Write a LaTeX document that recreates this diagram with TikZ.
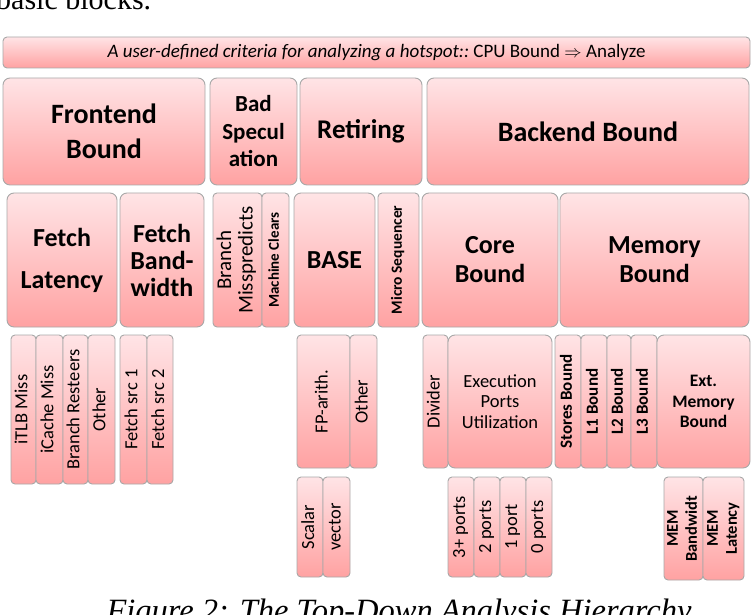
\documentclass[tikz,border=0pt]{standalone}
\usepackage{fontspec}
\setmainfont{Carlito}
\newfontfamily\capserif{Liberation Serif}
\definecolor{ptop}{HTML}{FFE4E6}
\definecolor{pbot}{HTML}{FFA2A2}
\definecolor{bord}{HTML}{A8A8A8}
\tikzset{
  bx/.style={draw=bord, line width=0.9pt, rounded corners=7pt, top color=ptop, bottom color=pbot,
    inner sep=0pt, outer sep=0pt, align=center, text=black},
  sbx/.style={bx, rounded corners=4pt},
}
% \bx[style]{name}{x1}{y1}{x2}{y2}{font}{text}
\newcommand{\bx}[8][bx]{%
  \node[#1, font={#7}, minimum width={(#5-#3)*1pt}, minimum height={(#6-#4)*1pt}]
    (#2) at ({(#3+#5)/2},{(#4+#6)/2}) {#8};}
\newcommand{\rot}[1]{\rotatebox{90}{\begin{tabular}{@{}c@{}}#1\end{tabular}}}
\newcommand{\fs}[2]{\fontsize{#1}{#2}\selectfont}
\begin{document}
\begin{tikzpicture}[x=1pt,y=-1pt]
\useasboundingbox (0,0) rectangle (756,615);
\clip (0,0) rectangle (756,615);
% partial surrounding text
\node[anchor=base west, inner sep=0pt, font=\capserif\fs{30}{34}] (prev) at (-4,10) {basic blocks.};
\node[anchor=base, inner sep=0pt, font=\capserif\itshape\fs{32.5}{36}] (cap) at (399,621) {Figure 2: The Top-Down Analysis Hierarchy};
% header
\bx[sbx]{hdr}{3}{37}{750}{68}{\fs{19}{22}}{\itshape A user-defined criteria for analyzing a hotspot::\upshape\ CPU Bound $\Rightarrow$ Analyze}
% level 1
\bx{fe}{3}{78}{205}{185}{\fs{28}{35}\bfseries}{Frontend\\Bound}
\bx{bs}{210}{78}{297}{185}{\fs{23}{27.5}\bfseries}{Bad\\Specul\\ation}
\bx{ret}{300}{78}{422}{185}{\fs{27}{32}\bfseries}{Retiring}
\bx{be}{427}{78}{749}{185}{\fs{28}{35}\bfseries}{Backend Bound}
% level 2
\bx{fl}{7}{193}{117}{327}{\fs{26}{42}\bfseries}{Fetch\\Latency}
\bx{fb}{120}{193}{204}{327}{\fs{26}{27}\bfseries}{Fetch\\Band-\\width}
\bx[sbx]{bm}{213}{193}{262}{327}{\fs{21}{21.5}}{\rot{Branch\\Misspredicts}}
\bx[sbx]{mc}{262}{193}{289}{327}{\fs{15}{17}\bfseries}{\rot{Machine Clears}}
\bx{base}{294}{193}{375}{327}{\fs{26}{30}\bfseries}{BASE}
\bx[sbx]{ms}{378}{193}{419}{327}{\fs{15.5}{17}\bfseries}{\rot{Micro Sequencer}}
\bx{cb}{422}{193}{558}{327}{\fs{26}{29}\bfseries}{Core\\Bound}
\bx{mb}{560}{193}{749}{327}{\fs{26}{29}\bfseries}{Memory\\Bound}
% level 3 frontend
\bx[sbx]{itlb}{11}{335}{36}{484}{\fs{18.5}{20}}{\rot{iTLB Miss}}
\bx[sbx]{icache}{36}{335}{63}{484}{\fs{18.5}{20}}{\rot{iCache Miss}}
\bx[sbx]{bres}{63}{335}{88}{484}{\fs{18.5}{20}}{\rot{Branch Resteers}}
\bx[sbx]{feo}{88}{335}{115}{484}{\fs{18.5}{20}}{\rot{Other}}
\bx[sbx]{fs1}{120}{335}{147}{484}{\fs{18.5}{20}}{\rot{Fetch src 1}}
\bx[sbx]{fs2}{147}{335}{173}{484}{\fs{18.5}{20}}{\rot{Fetch src 2}}
% level 3 retiring
\bx[sbx]{fp}{297}{335}{350}{468}{\fs{18.5}{20}}{\rot{FP-arith.}}
\bx[sbx]{reto}{350}{335}{377}{468}{\fs{18.5}{20}}{\rot{Other}}
\bx[sbx]{sc}{297}{477}{323}{577}{\fs{18.5}{20}}{\rot{Scalar}}
\bx[sbx]{vec}{323}{477}{350}{577}{\fs{18.5}{20}}{\rot{vector}}
% level 3 core
\bx[sbx]{div}{423}{335}{448}{468}{\fs{18.5}{20}}{\rot{Divider}}
\bx{epu}{448}{335}{552}{468}{\fs{18.5}{20.5}}{Execution\\Ports\\Utilization}
\bx[sbx]{p3}{448}{477}{474}{577}{\fs{18.5}{20}}{\rot{3+ ports}}
\bx[sbx]{p2}{474}{477}{500}{577}{\fs{18.5}{20}}{\rot{2 ports}}
\bx[sbx]{p1}{500}{477}{526}{577}{\fs{18.5}{20}}{\rot{1 port}}
\bx[sbx]{p0}{526}{477}{552}{577}{\fs{18.5}{20}}{\rot{0 ports}}
% level 3 memory
\bx[sbx]{stb}{555}{335}{581}{468}{\fs{17}{19}\bfseries}{\rot{Stores Bound}}
\bx[sbx]{l1}{581}{335}{607}{468}{\fs{17}{19}\bfseries}{\rot{L1 Bound}}
\bx[sbx]{l2}{607}{335}{631}{468}{\fs{17}{19}\bfseries}{\rot{L2 Bound}}
\bx[sbx]{l3}{631}{335}{657}{468}{\fs{17}{19}\bfseries}{\rot{L3 Bound}}
\bx{ext}{657}{335}{750}{468}{\fs{17.5}{20.5}\bfseries}{Ext.\\Memory\\Bound}
\bx[sbx]{mbw}{664}{477}{703}{580}{\fs{16.5}{19}\bfseries}{\rot{MEM\\Bandwidt}}
\bx[sbx]{mlat}{703}{477}{744}{580}{\fs{16.5}{19}\bfseries}{\rot{MEM\\Latency}}
\end{tikzpicture}
\end{document}
